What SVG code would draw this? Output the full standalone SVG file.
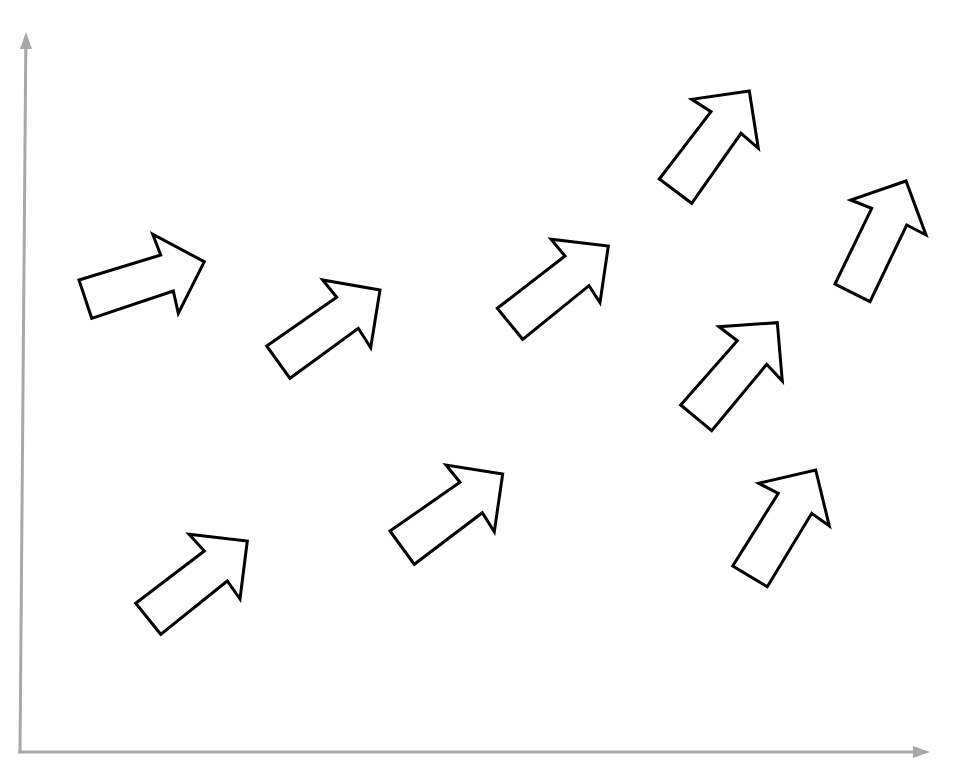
<svg xmlns="http://www.w3.org/2000/svg" width="958" height="774" viewBox="0 0 958 774">
<style>
.axis{stroke:#a8a8a8;stroke-width:3;fill:none}
.ah{fill:#a8a8a8;stroke:none}
.arr{fill:#fff;stroke:#000;stroke-width:3;stroke-linejoin:miter}
</style>
<rect width="958" height="774" fill="#fff"/>
<g id="axes">
<line class="axis" x1="20" y1="753.5" x2="25.8" y2="48"/>
<polygon class="ah" points="26,32 32,49 20,49"/>
<line class="axis" x1="18.5" y1="752" x2="914" y2="752"/>
<polygon class="ah" points="930,752 913,746 913,758"/>
</g>
<g id="arrow1"><polygon class="arr" points="79,280 160.7,255 152.7,234.3 204.3,261.7 178.3,313.3 173.3,291 91.7,318.3"/></g>
<g id="arrow2"><polygon class="arr" points="266.7,346 336.7,297.3 322.7,280 380,290 370.7,347.7 358.3,328.3 290,378.3"/></g>
<g id="arrow3"><polygon class="arr" points="497.3,308.3 565,256 551,239.3 608.3,246 600,302.7 589,285.7 522.7,339.3"/></g>
<g id="arrow4"><polygon class="arr" points="659.3,179 711,111.7 691.7,99.3 749.3,91 758.3,148.3 741,133.3 691.7,203.3"/></g>
<g id="arrow5"><polygon class="arr" points="835,284 871.7,208.3 850.7,200 906,181 926,235 906.7,225 870,301.7"/></g>
<g id="arrow6"><polygon class="arr" points="680.7,405 737.3,340.7 719,326.7 777.3,322.7 782.3,381 766.7,364.3 711.7,430.7"/></g>
<g id="arrow7"><polygon class="arr" points="732.7,566 778.3,493.3 758.7,483.3 815.7,470 829.3,526 811.7,513.3 767.3,586.7"/></g>
<g id="arrow8"><polygon class="arr" points="135.7,603.3 204.3,551 189,534.3 247.3,541 240,599 227.3,581 160.7,634.3"/></g>
<g id="arrow9"><polygon class="arr" points="390,531 460,482.3 446,465 502.7,474 494.3,531.7 482.3,512.7 414.3,564.3"/></g>
</svg>
